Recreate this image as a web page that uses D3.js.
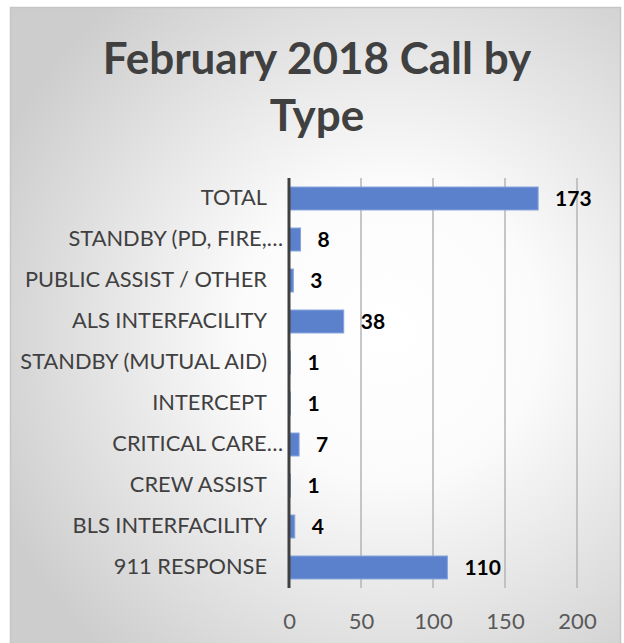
<!DOCTYPE html>
<html>
<head>
<meta charset="utf-8">
<script src="https://cdn.jsdelivr.net/npm/d3@7"></script>
<style>
  body { margin: 0; background: #fff; }
  svg { display: block; }
</style>
</head>
<body>
<div id="chart"></div>
<script>
// chart data
var categories = ["TOTAL", "STANDBY (PD, FIRE,\u2026", "PUBLIC ASSIST / OTHER", "ALS INTERFACILITY",
  "STANDBY (MUTUAL AID)", "INTERCEPT", "CRITICAL CARE\u2026", "CREW ASSIST", "BLS INTERFACILITY", "911 RESPONSE"];
var values = [173, 8, 3, 38, 1, 1, 7, 1, 4, 110];
var xTicks = [0, 50, 100, 150, 200];
var titleLines = ["February 2018 Call by", "Type"];

var svgWidth = 624;
var svgHeight = 643;
var font = "Lato, 'Open Sans', sans-serif";

var svg = d3.select("#chart")
  .append("svg")
  .attr("width", svgWidth)
  .attr("height", svgHeight);

// background gradient
var grad = svg.append("defs").append("radialGradient")
  .attr("id", "bg")
  .attr("gradientUnits", "userSpaceOnUse")
  .attr("cx", 390).attr("cy", 330).attr("r", 430);
grad.append("stop").attr("offset", "0%").attr("stop-color", "#ffffff");
grad.append("stop").attr("offset", "35%").attr("stop-color", "#fbfbfb");
grad.append("stop").attr("offset", "100%").attr("stop-color", "#cdcdcd");

svg.append("rect")
  .attr("x", 10.5).attr("y", 7.5)
  .attr("width", 610).attr("height", 680)
  .attr("fill", "url(#bg)")
  .attr("stroke", "#c6c6c6")
  .attr("stroke-width", 1.5);

// title
svg.append("text")
  .attr("x", 316)
  .attr("font-family", font)
  .attr("font-weight", "bold")
  .attr("font-size", 44)
  .attr("fill", "#404040")
  .attr("text-anchor", "middle")
  .selectAll("tspan")
  .data(titleLines)
  .enter()
  .append("tspan")
  .attr("x", 317)
  .attr("y", function(d, i) { return 74 + i * 57; })
  .text(function(d) { return d; });

// scales
var x = d3.scaleLinear().domain([0, 200]).range([289, 577]);
var y = d3.scaleBand().domain(categories).range([178, 588])
  .paddingInner(0.44).paddingOuter(0.22);

// gridlines
svg.append("g")
  .selectAll("line")
  .data(xTicks.slice(1))
  .enter()
  .append("line")
  .attr("x1", function(d) { return x(d); })
  .attr("x2", function(d) { return x(d); })
  .attr("y1", 178)
  .attr("y2", 588)
  .attr("stroke", "#b4b4b4")
  .attr("stroke-width", 1.5);

// x axis labels
var xAxis = svg.append("g")
  .attr("transform", "translate(0,588)")
  .call(d3.axisBottom(x).tickValues(xTicks).tickSize(0).tickPadding(25));
xAxis.select(".domain").remove();
xAxis.selectAll("text")
  .attr("font-family", font)
  .attr("font-size", 22)
  .attr("fill", "#595959");

// bars
svg.append("g")
  .selectAll("rect")
  .data(values)
  .enter()
  .append("rect")
  .attr("x", x(0))
  .attr("y", function(d, i) { return y(categories[i]); })
  .attr("width", function(d) { return x(d) - x(0); })
  .attr("height", y.bandwidth())
  .attr("fill", "#5b81cd")
  .attr("stroke", "#86a3dc")
  .attr("stroke-width", 1);

// value labels
svg.append("g")
  .selectAll("text")
  .data(values)
  .enter()
  .append("text")
  .attr("x", function(d) { return x(d) + 17; })
  .attr("y", function(d, i) { return y(categories[i]) + y.bandwidth() / 2; })
  .attr("dy", "0.36em")
  .attr("font-family", font)
  .attr("font-weight", "bold")
  .attr("font-size", 21)
  .attr("fill", "#000")
  .text(function(d) { return d; });

// category axis
var yAxis = svg.append("g")
  .attr("transform", "translate(" + x(0) + ",0)")
  .call(d3.axisLeft(y).tickSize(0).tickPadding(22));
yAxis.select(".domain").remove();
yAxis.selectAll("text")
  .attr("font-family", font)
  .attr("font-size", 21.8)
  .attr("fill", "#404040")
  .attr("dx", function(d) { return d.slice(-1) === "\u2026" ? 16 : 0; });

svg.append("line")
  .attr("x1", x(0)).attr("x2", x(0))
  .attr("y1", 178).attr("y2", 588)
  .attr("stroke", "#404040")
  .attr("stroke-width", 3);
</script>
</body>
</html>
